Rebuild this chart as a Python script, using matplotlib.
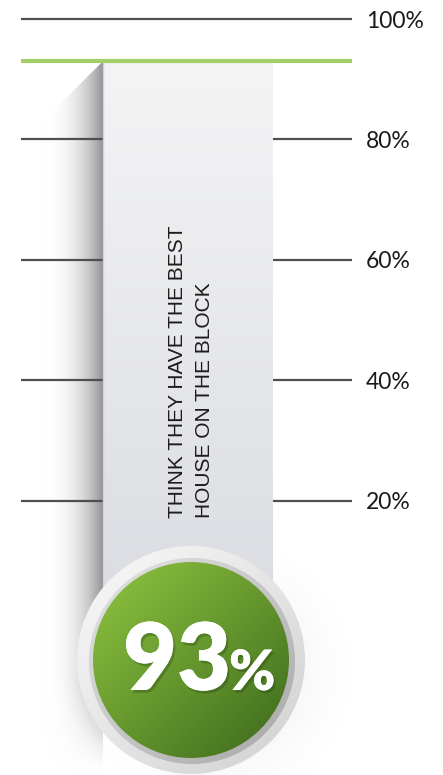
import numpy as np
import matplotlib
matplotlib.use("Agg")
import matplotlib.pyplot as plt
from matplotlib import font_manager
from matplotlib.patches import Polygon, Circle
from matplotlib import patheffects as pe
from matplotlib.colors import to_rgb

# --- data ---
value = 93
ticks = [20, 40, 60, 80, 100]
tick_labels = ["20%", "40%", "60%", "80%", "100%"]
caption_lines = ["THINK THEY HAVE THE BEST", "HOUSE ON THE BLOCK"]

W, H = 443, 775
P0, S = 621, 6.02          # pixel row of 0 %, pixels per percent


def v(ypix):
    """pixel row -> percent units of the main axes"""
    return (P0 - ypix) / S


def lin_grad(c0, c1, t):
    c0, c1 = np.array(to_rgb(c0)), np.array(to_rgb(c1))
    t = np.clip(t, 0, 1)[..., None]
    return c0 * (1 - t) + c1 * t


# condensed caption font if there is one
names = {f.name for f in font_manager.fontManager.ttflist}
if 'Liberation Sans Narrow' in names:
    cap_family, cap_size = ['Liberation Sans Narrow', 'DejaVu Sans'], 17.6
else:
    cap_family, cap_size = ['Liberation Sans', 'DejaVu Sans'], 15.0

fig = plt.figure(figsize=(W / 100, H / 100), dpi=100)
ax = fig.add_axes([0, 0, 1, 1])
ax.set_xlim(0, W)
ax.set_ylim(v(H), v(0))
ax.axis('off')

top_px = P0 - S * value

# left drop shadow of the bar (horizontal fade)
shadow = Polygon([(103, value), (41, v(top_px + 62)), (41, v(H)), (103, v(H))],
                 closed=True, facecolor='none', edgecolor='none')
ax.add_patch(shadow)
xs = np.linspace(0, 1, 200)
ys = np.linspace(0, 1, 300)
X, Y = np.meshgrid(xs, ys)
ypix = top_px + Y * (H - top_px)
alpha = X ** 1.6 * np.clip((H - ypix) / 90, 0, 1) ** 1.5
rgba = np.dstack([lin_grad('#ffffff', '#939398', X), alpha])
im = ax.imshow(rgba, extent=[41, 103, v(H), value], aspect='auto', origin='upper',
               zorder=0, interpolation='bilinear')
im.set_clip_path(shadow)

# soft shadow right of the badge
xs = np.linspace(40, 420, 300)
ys = np.linspace(520, 775, 200)
X, Y = np.meshgrid(xs, ys)
d = np.hypot(X - 215, Y - 672) / 150
alpha = np.clip(1 - d, 0, 1) ** 1.8 * 0.3
rgba = np.dstack([np.full(X.shape + (3,), 0.55), alpha])
ax.imshow(rgba, extent=[40, 420, v(775), v(520)], aspect='auto', origin='upper',
          zorder=0.5, interpolation='bilinear')

# grid lines
ax.hlines(ticks, 21, 352, color='#4f4f4f', lw=1.6, zorder=1)
for t, lab in zip(ticks, tick_labels):
    ax.text(366, t, lab, va='center_baseline', ha='left', fontsize=16.5,
            family=['Lato', 'DejaVu Sans'], color='#1a1a1a', zorder=4)

# the bar
bar_bottom = v(705)
bars = ax.bar(188, value - bar_bottom, bottom=bar_bottom, width=170,
              color='none', edgecolor='none', zorder=2)
Yb = np.linspace(0, 1, 256)[:, None] * np.ones((1, 4))
rgb = lin_grad('#f4f4f5', '#d6d8de', Yb)
im = ax.imshow(rgb, extent=[103, 273, bar_bottom, value], aspect='auto', origin='upper',
               zorder=2, interpolation='bilinear')
im.set_clip_path(bars[0])
ax.vlines(103.5, bar_bottom, value, color='#d2d2d6', lw=1, zorder=2.1)

# value marker
ax.hlines(value, 21, 352, color='#a4cf68', lw=3, zorder=3)

# caption
for i, line in enumerate(caption_lines):
    ax.text(178 + 26.5 * i, v(518), line, rotation=90, ha='center', va='bottom',
            fontsize=cap_size, family=cap_family, color='#1c1c1c', zorder=4)

# --- badge (overlay in pixel units) ---
ax2 = fig.add_axes([0, 0, 1, 1])
ax2.set_xlim(0, W)
ax2.set_ylim(H, 0)
ax2.axis('off')
ax2.patch.set_visible(False)

cx, cy = 191, 660


def disc(r, c0, c1, z, ox=0, oy=0):
    circ = Circle((cx + ox, cy + oy), r, facecolor='none', edgecolor='none')
    ax2.add_patch(circ)
    g = np.linspace(0, 1, 256)
    GX, GY = np.meshgrid(g, g)
    t = (GX + GY) / 2
    img = ax2.imshow(lin_grad(c0, c1, t), extent=[cx + ox - r, cx + ox + r, cy + oy + r, cy + oy - r],
                     aspect='auto', origin='upper', zorder=z, interpolation='bilinear')
    img.set_clip_path(circ)


disc(114, '#fafafa', '#d0d0d0', 1)
disc(103, '#e6e6e6', '#a6a6a6', 2, 1, 1)
disc(98, '#8fc640', '#3c681c', 3)

shadow_fx = [pe.withSimplePatchShadow(offset=(1.5, -2), shadow_rgbFace='#1e3a0a', alpha=0.3), pe.Normal()]
ax2.text(177, 690, str(value), ha='center', va='baseline', fontsize=67,
         weight='heavy', family=['Lato', 'DejaVu Sans'], color='white', zorder=5,
         path_effects=shadow_fx)
ax2.text(229, 690, '%', ha='left', va='baseline', fontsize=40,
         weight='heavy', family=['Lato', 'DejaVu Sans'], color='white', zorder=5,
         path_effects=shadow_fx)

fig.savefig('out.png', dpi=100)
